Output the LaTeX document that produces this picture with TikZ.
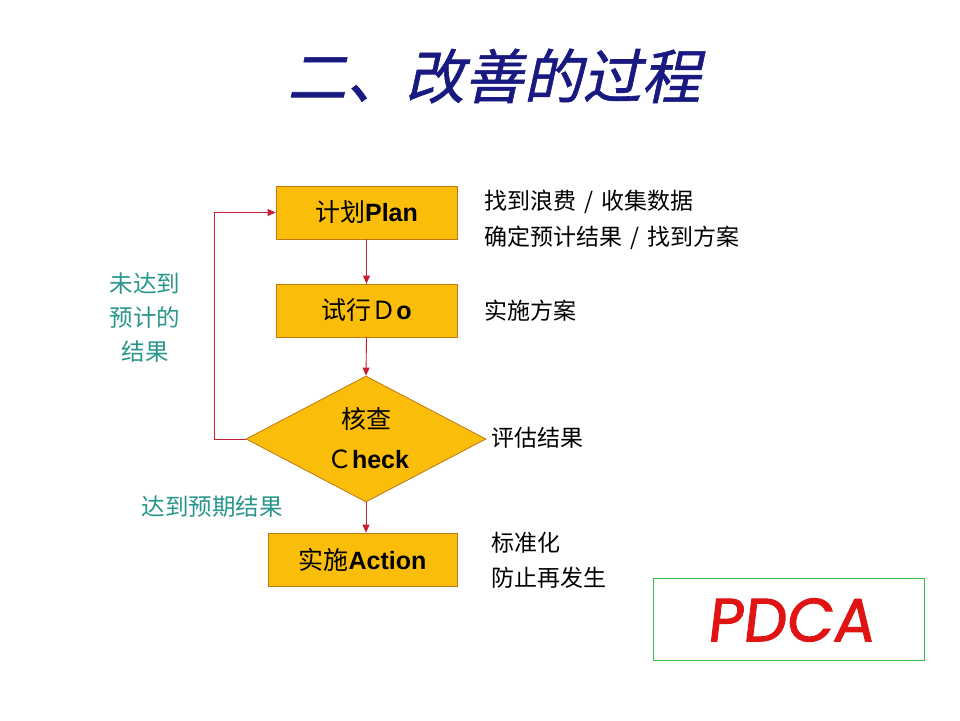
\documentclass[tikz,border=0pt]{standalone}
\usepackage{fontspec}
\usetikzlibrary{shapes.geometric,arrows.meta}
\setmainfont{Noto Sans CJK SC}
\newfontfamily\cjk{Noto Sans CJK SC}
\newfontfamily\titlefont[FakeSlant=0.22,FakeBold=1]{Noto Sans CJK SC}
\newfontfamily\arialbf{Liberation Sans Bold}
\newfontfamily\pdcafont[FakeSlant=0.12,FakeBold=1.5]{Poppins}
\newcommand\slashsep{\hspace{0.35em}/\hspace{0.35em}}
\definecolor{boxfill}{RGB}{250,190,10}
\definecolor{boxline}{RGB}{190,120,20}
\definecolor{arrred}{RGB}{200,30,50}
\definecolor{teal2}{RGB}{40,150,140}
\definecolor{navy2}{RGB}{25,25,130}
\definecolor{pdcared}{RGB}{225,20,20}
\definecolor{pdcagreen}{RGB}{60,190,70}
\tikzset{
  stepbox/.style={draw=boxline, fill=boxfill, line width=0.8pt, inner sep=0pt, font=\fontsize{25}{28}\selectfont},
  flowarrow/.style={draw=arrred, line width=0.9pt, -{Triangle[length=8pt,width=7pt]}},
  righttext/.style={anchor=west, inner sep=0pt, font=\fontsize{23}{26}\selectfont},
  tealtext/.style={text=teal2, inner sep=0pt, font=\fontsize{23.5}{26}\selectfont}
}
\begin{document}
\begin{tikzpicture}[x=1pt,y=-1pt]
\useasboundingbox[fill=white] (0,0) rectangle (960,720);
% title
\node[text=navy2, font=\titlefont\fontsize{59}{62}\selectfont, inner sep=0pt] (title) at (494,76) {二、改善的过程};
% boxes
\node[stepbox, minimum width=181pt, minimum height=53pt] (plan) at (366.5,212.5) {计划{\arialbf Plan}};
\node[stepbox, minimum width=181pt, minimum height=53pt] (do) at (366.5,310.5) {试行Ｄ{\arialbf o}};
\node[diamond, draw=boxline, fill=boxfill, line width=0.8pt, inner sep=0pt, minimum width=240pt, minimum height=126pt] (chk) at (366,439) {};
\node[inner sep=0pt, font=\fontsize{25}{28}\selectfont] (chk1) at (366,419) {核查};
\node[inner sep=0pt, font=\fontsize{25}{28}\selectfont] (chk2) at (368,459) {Ｃ{\arialbf heck}};
\node[stepbox, minimum width=189pt, minimum height=53pt] (act) at (362.5,559.5) {实施{\arialbf Action}};
% arrows
\draw[flowarrow] (plan.south) -- (do.north);
\draw[flowarrow] (do.south) -- (chk.north);
\draw[flowarrow] (chk.south) -- (chk.south |- act.north);
\draw[flowarrow] (chk.west) -- ++(-31,0) |- (plan.west);
% right texts
\node[righttext] (t1) at (484,202) {找到浪费\slashsep 收集数据};
\node[righttext] (t2) at (484,238) {确定预计结果\slashsep 找到方案};
\node[righttext] (t3) at (484,311) {实施方案};
\node[righttext] (t4) at (491,438) {评估结果};
\node[righttext] (t5) at (491,543) {标准化};
\node[righttext] (t6) at (491,578) {防止再发生};
% teal labels
\node[tealtext] (l1) at (145,284) {未达到};
\node[tealtext] (l2) at (145,318) {预计的};
\node[tealtext] (l3) at (145,352) {结果};
\node[tealtext] (l4) at (212,507) {达到预期结果};
% PDCA
\node[draw=pdcagreen, line width=0.8pt, minimum width=271pt, minimum height=82pt, inner sep=0pt] (pdcabox) at (788.5,619) {};
\node[text=pdcared, font=\pdcafont\fontsize{61}{64}\selectfont, inner sep=0pt] (pdca) at (790,620) {PDCA};
\end{tikzpicture}
\end{document}
